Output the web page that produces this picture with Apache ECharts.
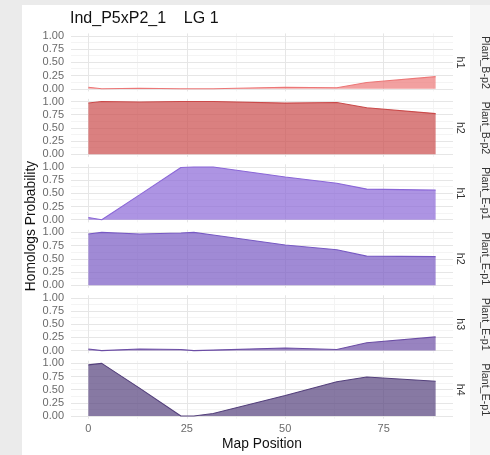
<!DOCTYPE html>
<html>
<head>
<meta charset="utf-8">
<script src="https://cdn.jsdelivr.net/npm/echarts@6/dist/echarts.min.js"></script>
<style>
html,body{margin:0;padding:0;background:#ebebeb;}
.sheet{position:absolute;left:22px;top:5px;width:448px;height:450px;background:#fff;}
.edge{position:absolute;left:470px;top:5px;width:20px;height:450px;background:#f6f6f6;}
#chart{position:absolute;left:0;top:0;width:490px;height:455px;}
</style>
</head>
<body>
<div class="sheet"></div>
<div class="edge"></div>
<div id="chart"></div>
<script>
// data
const titleText = 'Ind_P5xP2_1    LG 1'
const positions = [0, 3.4, 13, 23.5, 26.8, 31.7, 50, 63.1, 70.7, 88.2]
const bH1 = [0.03, 0.00, 0.01, 0.00, 0.00, 0.00, 0.03, 0.02, 0.12, 0.23]
const bH2 = [0.97, 1.00, 0.99, 1.00, 1.00, 1.00, 0.97, 0.98, 0.88, 0.77]
const eH1 = [0.04, 0.00, 0.47, 0.99, 1.00, 1.00, 0.81, 0.69, 0.58, 0.56]
const eH2 = [0.97, 1.00, 0.97, 0.99, 1.00, 0.95, 0.76, 0.67, 0.55, 0.54]
const eH3 = [0.03, 0.00, 0.03, 0.02, 0.00, 0.01, 0.05, 0.02, 0.15, 0.26]
const eH4 = [0.97, 1.00, 0.53, 0.00, 0.00, 0.05, 0.39, 0.65, 0.74, 0.66]
const parents = ['Plant_B-p2', 'Plant_B-p2', 'Plant_E-p1', 'Plant_E-p1', 'Plant_E-p1', 'Plant_E-p1']
const homologs = ['h1', 'h2', 'h1', 'h2', 'h3', 'h4']
const panelValues = [bH1, bH2, eH1, eH2, eH3, eH4]
const xTicks = [0, 25, 50, 75]
const xMinor = [12.5, 37.5, 62.5, 87.5]
const yTicks = [0, 0.25, 0.5, 0.75, 1]
const yMinor = [0.125, 0.375, 0.625, 0.875]

const lineColors = ['#ec7777', '#ca4a4a', '#8a66d7', '#7759c3', '#6c4ea5', '#54407c']
const fillAlpha = 0.7

const font = '"Liberation Sans", Arial, sans-serif'
const panelLeft = 71
const panelRight = 37
const panelTop = 33.4
const panelStep = 65.46
const panelH = 58

let chart
let option = {}

function hexToRgba(hex, a){
  const n = parseInt(hex.slice(1), 16)
  return `rgba(${n >> 16},${(n >> 8) & 255},${n & 255},${a})`
}

function initChart(){
  const dom = document.getElementById('chart')
  chart = echarts.init(dom, null, {renderer: 'canvas'})
  getOption()
  chart.setOption(option)
}

function getOption(){
  const span = Math.max(...positions) - Math.min(...positions)
  const xMin = Math.min(...positions) - span * 0.05
  const xMax = Math.max(...positions) + span * 0.05

  const grids = [], xAxes = [], yAxes = [], series = [], graphic = []

  panelValues.forEach((vals, i) => {
    const top = panelTop + i * panelStep
    grids.push({left: panelLeft, right: panelRight, top: top, height: panelH})
    xAxes.push({
      gridIndex: i, type: 'value', min: xMin, max: xMax,
      axisLine: {show: false}, axisTick: {show: false}, splitLine: {show: false},
      axisLabel: {
        show: i === panelValues.length - 1, customValues: xTicks,
        color: '#6b6b6b', fontSize: 11, fontFamily: font, margin: 5
      }
    })
    yAxes.push({
      gridIndex: i, type: 'value', min: -0.05, max: 1.05,
      axisLine: {show: false}, axisTick: {show: false}, splitLine: {show: false},
      axisLabel: {
        customValues: yTicks, formatter: v => v.toFixed(2),
        color: '#6b6b6b', fontSize: 11, fontFamily: font, margin: 7
      }
    })
    // panel grid lines, kept under the areas
    const gl = []
    yMinor.forEach(v => gl.push({yAxis: v, lineStyle: {color: '#f4f4f4', width: 1, type: 'solid'}}))
    xMinor.forEach(v => gl.push({xAxis: v, lineStyle: {color: '#f4f4f4', width: 1, type: 'solid'}}))
    yTicks.forEach(v => gl.push({yAxis: v, lineStyle: {color: '#e6e6e6', width: 1, type: 'solid'}}))
    xTicks.forEach(v => gl.push({xAxis: v, lineStyle: {color: '#e6e6e6', width: 1, type: 'solid'}}))
    series.push({
      type: 'line', xAxisIndex: i, yAxisIndex: i, data: [], z: 0, silent: true,
      markLine: {z: 0, symbol: ['none', 'none'], silent: true, animation: false, label: {show: false}, data: gl}
    })
    series.push({
      type: 'line', xAxisIndex: i, yAxisIndex: i, z: 5,
      data: positions.map((x, j) => [x, vals[j]]),
      showSymbol: false, animation: false,
      lineStyle: {color: lineColors[i], width: 1.1},
      areaStyle: {color: hexToRgba(lineColors[i], fillAlpha), opacity: 1, origin: 'auto'}
    })
    // facet strips
    const cy = top + panelH / 2
    graphic.push({type: 'text', x: 460, y: cy, rotation: -Math.PI / 2,
      style: {text: homologs[i], font: `10.7px ${font}`, fill: '#333', align: 'center', verticalAlign: 'middle'}})
    graphic.push({type: 'text', x: 485, y: cy, rotation: -Math.PI / 2,
      style: {text: parents[i], font: `10.7px ${font}`, fill: '#333', align: 'center', verticalAlign: 'middle'}})
  })

  const plotBottom = panelTop + (panelValues.length - 1) * panelStep + panelH
  graphic.push({type: 'text', x: 70, y: 19, style: {text: titleText, font: `16px ${font}`, fill: '#111', align: 'left', verticalAlign: 'middle'}})
  graphic.push({type: 'text', x: (panelLeft + 490 - panelRight) / 2, y: 444, style: {text: 'Map Position', font: `13.8px ${font}`, fill: '#111', align: 'center', verticalAlign: 'middle'}})
  graphic.push({type: 'text', x: 31.5, y: (panelTop + plotBottom) / 2, rotation: Math.PI / 2,
    style: {text: 'Homologs Probability', font: `13.8px ${font}`, fill: '#111', align: 'center', verticalAlign: 'middle'}})

  option = {
    backgroundColor: 'transparent',
    animation: false,
    grid: grids,
    xAxis: xAxes,
    yAxis: yAxes,
    series: series,
    graphic: graphic
  }
}

initChart()
</script>
</body>
</html>
